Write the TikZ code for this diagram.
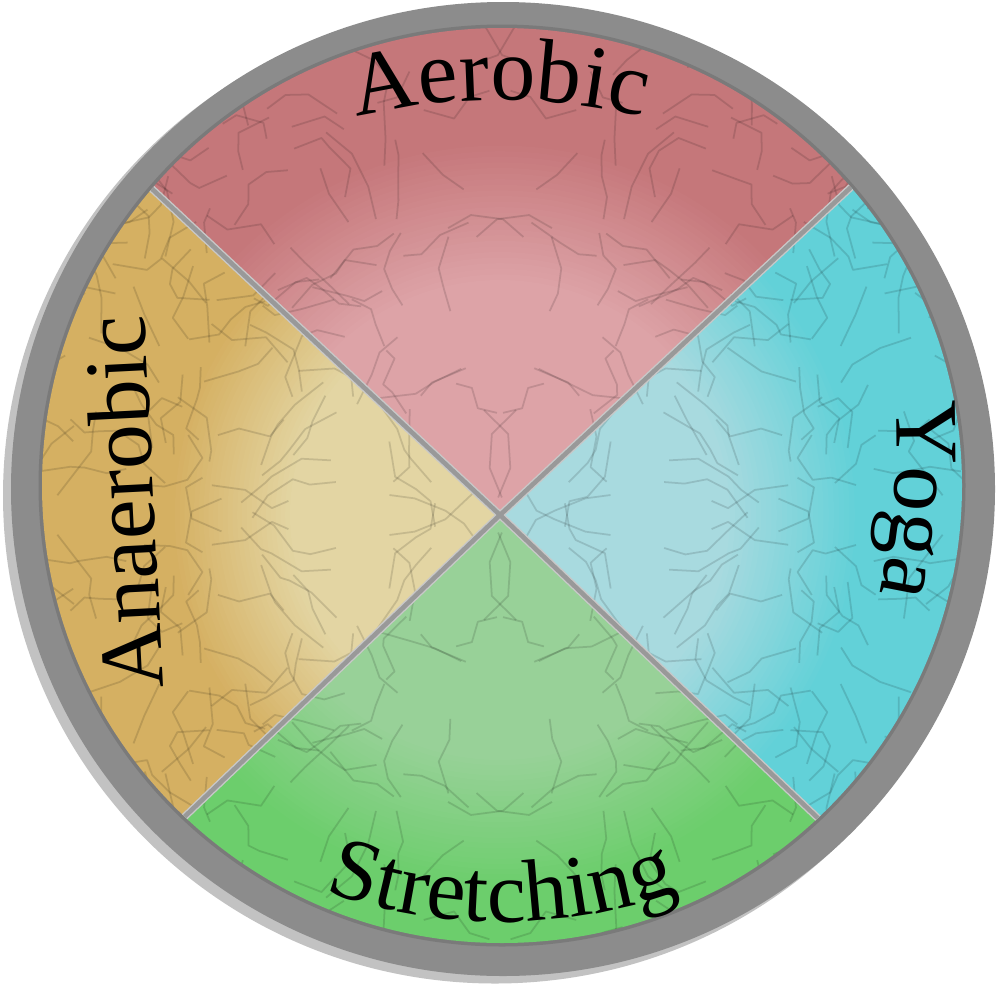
\documentclass[tikz,border=0pt]{standalone}
\usepackage{fontspec}
\setmainfont{Liberation Serif}
\usetikzlibrary{decorations.text,decorations.pathmorphing,calc}

\definecolor{ringgray}{HTML}{8C8C8C}
\definecolor{ringlight}{HTML}{C2C2C2}
\definecolor{ringdark}{HTML}{7A7A7A}
\definecolor{divgray}{HTML}{999999}
\definecolor{divlight}{HTML}{C8C8C8}
\definecolor{redout}{HTML}{C5777A}
\definecolor{redin}{HTML}{DDA3A7}
\definecolor{yelout}{HTML}{D5B062}
\definecolor{yelin}{HTML}{E3D5A3}
\definecolor{cyaout}{HTML}{62D1D8}
\definecolor{cyain}{HTML}{A8DADF}
\definecolor{greout}{HTML}{6CCE6C}
\definecolor{grein}{HTML}{98D198}

\newcommand\labfont{\fontsize{25.5}{30}\selectfont}
\newcommand\labfontb{\fontsize{25}{28}\selectfont}

% manual radial gradient: #1 outer colour, #2 inner colour, #3 outer radius, #4 step
\newcommand\quadfill[4]{%
  \fill[#1] (X) circle (560);
  \foreach \k in {0,...,25}{
    \pgfmathsetmacro\rr{#3-#4*\k}
    \pgfmathtruncatemacro\mm{100-4*\k}
    \fill[#1!\mm!#2] (X) circle (\rr);
  }%
}

\tikzset{
  divline/.style={draw=divgray, line width=1.3pt},
  divedge/.style={draw=divlight, line width=2.1pt},
  texline/.style={draw=black, opacity=0.13, line width=0.5pt, line join=round,
    decorate, decoration={random steps, segment length=7, amplitude=2}},
  curvlabel/.style={decorate, decoration={text along path, text align=center, text={#1}}}
}

\begin{document}
\begin{tikzpicture}[x=0.01cm, y=0.01cm]
\useasboundingbox (0,0) rectangle (1000,-1000);
\fill[white] (0,0) rectangle (1000,-1000);

% ring
\fill[ringlight] (495,-495.5) ellipse [x radius=492, y radius=488];
\fill[ringgray] (503,-489) ellipse [x radius=492, y radius=487];
\fill[ringdark] (502,-485.5) ellipse [x radius=463.5, y radius=461];

\coordinate (X) at (500,-515);
\coordinate (PTL) at (150,-187);
\coordinate (PTR) at (848,-190);
\coordinate (PBL) at (178,-823);
\coordinate (PBR) at (822,-822);

\begin{scope}
\clip (502,-485.5) ellipse [x radius=460, y radius=457.5];
% red (top)
\begin{scope}
\clip (X) -- ($(X)!2!(PTL)$) -- (500,400) -- ($(X)!2!(PTR)$) -- cycle;
\quadfill{redout}{redin}{375}{5.6}
\end{scope}
% yellow (left)
\begin{scope}
\clip (X) -- ($(X)!2!(PTL)$) -- (-600,-515) -- ($(X)!2!(PBL)$) -- cycle;
\quadfill{yelout}{yelin}{330}{4.8}
\end{scope}
% cyan (right)
\begin{scope}
\clip (X) -- ($(X)!2!(PTR)$) -- (1600,-515) -- ($(X)!2!(PBR)$) -- cycle;
\quadfill{cyaout}{cyain}{360}{5.2}
\end{scope}
% green (bottom)
\begin{scope}
\clip (X) -- ($(X)!2!(PBL)$) -- (500,-1600) -- ($(X)!2!(PBR)$) -- cycle;
\quadfill{greout}{grein}{375}{5.2}
\end{scope}
% crackle texture, mirrored about the axes through the centre
\begin{scope}[shift={(X)}]
\pgfmathsetseed{4711}
\foreach \i in {1,...,110}{
  \pgfmathsetmacro\px{rnd*460}
  \pgfmathsetmacro\py{rnd*460}
  \pgfmathsetmacro\an{rnd*360}
  \pgfmathsetmacro\bn{\an+70*rand}
  \pgfmathsetmacro\cn{\bn+70*rand}
  \pgfmathsetmacro\la{15+rnd*30}
  \pgfmathsetmacro\lb{15+rnd*30}
  \pgfmathsetmacro\lc{10+rnd*25}
  \foreach \sx/\sy in {1/1,-1/1,1/-1,-1/-1}{
    \draw[texline, xscale=\sx, yscale=\sy] (\px,\py) -- ++(\an:\la) -- ++(\bn:\lb) -- ++(\cn:\lc);
  }
}
\end{scope}
% dividers
\foreach \p in {PTL,PTR,PBL,PBR}{
  \draw[divedge] (X) -- ($(X)!1.2!(\p)$);
}
\foreach \p in {PTL,PTR,PBL,PBR}{
  \draw[divline] (X) -- ($(X)!1.2!(\p)$);
}
\end{scope}

% labels
\path[curvlabel={|\labfont|Aerobic}] (500,-700) ++(115:600) arc[start angle=115, end angle=65, radius=600];
\path[curvlabel={|\labfontb|Stretching}] (502,-410) ++(245:512) arc[start angle=245, end angle=295, radius=512];
\path[curvlabel={|\labfont|Yoga}] (197,-440) ++(15.3:700) arc[start angle=15.3, end angle=-24.7, radius=700];
\node[rotate=92.9, anchor=base, inner sep=0pt, font=\labfont] (anaerobic) at (154,-501) {Anaerobic};
\end{tikzpicture}
\end{document}
